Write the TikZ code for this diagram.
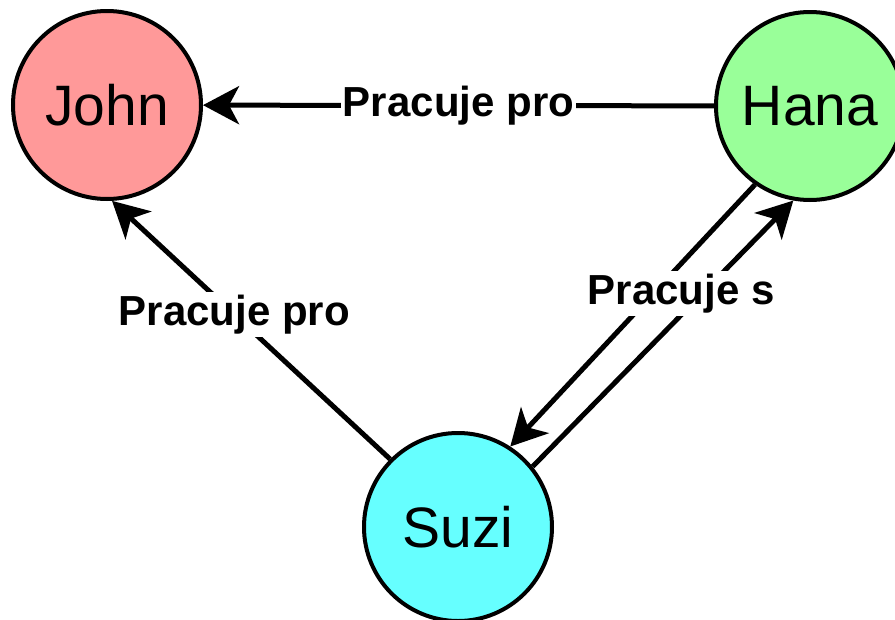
\documentclass[tikz,border=0pt]{standalone}
\usepackage{fontspec}
\setmainfont{Liberation Sans}
\usetikzlibrary{arrows.meta}
\definecolor{johnc}{HTML}{FF9999}
\definecolor{hanac}{HTML}{99FF99}
\definecolor{suzic}{HTML}{66FFFF}
\begin{document}
\begin{tikzpicture}[x=1pt,y=-1pt,
  person/.style={circle, draw=black, line width=4pt, minimum size=188pt, inner sep=0pt,
    font=\fontsize{57}{60}\selectfont},
  arr/.style={line width=5pt, -{Stealth[length=36pt,width=38pt,inset=10pt]}},
  lbl/.style={fill=white, inner xsep=2pt, inner ysep=3pt, font=\fontsize{42}{46}\selectfont\bfseries}]
\useasboundingbox (0,0) rectangle (895,619);
\node[person, fill=johnc] (john) at (107,105) {John};
\node[person, fill=hanac] (hana) at (810,106) {Hana};
\node[person, fill=suzic] (suzi) at (458,527) {Suzi};
\draw[arr] (hana) -- (john) node[lbl, midway] {Pracuje pro};
\draw[arr] (suzi.135) -- (john.-87) node[lbl, pos=0.56] {Pracuje pro};
\draw[arr] (hana.-125) -- (suzi.57);
\draw[arr] (suzi.39) -- (hana.-100) node[lbl, pos=0.65, xshift=-21pt] {Pracuje s};
\end{tikzpicture}
\end{document}
